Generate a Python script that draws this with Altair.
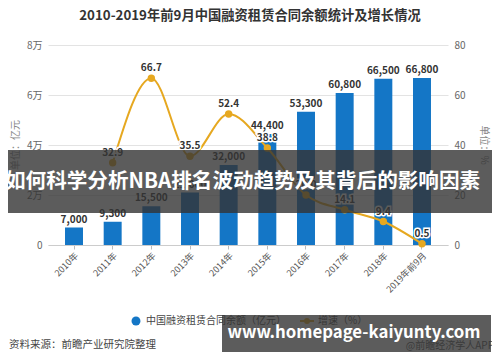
import altair as alt
import pandas as pd

years = ["2010年", "2011年", "2012年", "2013年", "2014年", "2015年", "2016年", "2017年", "2018年", "2019年前9月"]
balance = [7000, 9300, 15500, 21000, 32000, 44400, 53300, 60800, 66500, 66800]
growth = [None, 32.9, 66.7, 35.5, 52.4, 38.8, 20.0, 14.1, 9.4, 0.5]

FONT = "Noto Sans CJK SC"
BLUE = "#1476C6"
GOLD = "#E6A820"

df = pd.DataFrame({"year": years, "balance": balance, "growth": growth})
dfl = df.dropna(subset=["growth"])
one = pd.DataFrame({"a": [0]})

xenc = alt.X("year:N", sort=years,
             scale=alt.Scale(paddingInner=0.535, paddingOuter=0.44),
             axis=alt.Axis(title=None, labelAngle=-45, labelFontSize=9, labelColor="#555",
                           labelFont=FONT, tickColor="#bbb", tickSize=4, domainColor="#ccc",
                           labelPadding=2, grid=False))

yleft = alt.Y("balance:Q", scale=alt.Scale(domain=[0, 80000]),
              axis=alt.Axis(title=None, values=[0, 20000, 40000, 60000, 80000],
                            labelExpr="datum.value == 0 ? '0' : (datum.value/10000) + '万'",
                            labelFontSize=10, labelColor="#666", labelFont=FONT,
                            ticks=False, domain=False, gridColor="#e3e3e3", labelPadding=6))

bars = alt.Chart(df).mark_bar(color=BLUE).encode(x=xenc, y=yleft)
barlab = alt.Chart(df).mark_text(dy=-8, fontSize=10, fontWeight="bold", color="#333",
                                 font=FONT).encode(
    x=alt.X("year:N", sort=years), y="balance:Q", text=alt.Text("balance:Q", format=","))
left = alt.layer(bars, barlab)

yright = alt.Y("growth:Q", scale=alt.Scale(domain=[0, 80]),
               axis=alt.Axis(title=None, orient="right", values=[0, 20, 40, 60, 80],
                             labelFontSize=10, labelColor="#666", labelFont=FONT,
                             ticks=False, domain=False, grid=False, labelPadding=6))
line = alt.Chart(dfl).mark_line(color=GOLD, strokeWidth=2, interpolate="monotone").encode(
    x=alt.X("year:N", sort=years), y=yright)
pts = alt.Chart(dfl).mark_point(filled=True, color=GOLD, size=55, opacity=1).encode(
    x=alt.X("year:N", sort=years), y="growth:Q")
halo = alt.Chart(dfl).mark_text(dy=-10, fontSize=10, fontWeight="bold", color="white",
                                stroke="white", strokeWidth=3, font=FONT).encode(
    x=alt.X("year:N", sort=years), y="growth:Q", text=alt.Text("growth:Q", format=".1f"))
linelab = alt.Chart(dfl).mark_text(dy=-10, fontSize=10, fontWeight="bold", color="#333",
                                   font=FONT).encode(
    x=alt.X("year:N", sort=years), y="growth:Q", text=alt.Text("growth:Q", format=".1f"))
right = alt.layer(line, pts, halo, linelab)

def txt(t, x, y, **kw):
    return alt.Chart(one).mark_text(text=t, font=FONT, **kw).encode(
        x=alt.value(x), y=alt.value(y))

title = txt("2010-2019年前9月中国融资租赁合同余额统计及增长情况", 202, -29,
            fontSize=13.3, fontWeight="bold", color="#333", align="center", baseline="middle")
ltitle = txt("单位：亿元", -32, 100, fontSize=10, color="#888", angle=270,
             align="center", baseline="middle")
rtitle = txt("单位：%", 436, 100, fontSize=10, color="#888", angle=90,
             align="center", baseline="middle")

leg1 = alt.Chart(one).mark_point(filled=True, color=BLUE, size=80, opacity=1).encode(
    x=alt.value(88), y=alt.value(276))
leg1t = txt("中国融资租赁合同余额（亿元）", 98, 276, fontSize=10, color="#444",
            align="left", baseline="middle")
leg2l = alt.Chart(one).mark_rule(color=GOLD, strokeWidth=2).encode(
    x=alt.value(252), x2=alt.value(266), y=alt.value(276))
leg2p = alt.Chart(one).mark_point(filled=True, color=GOLD, size=35, opacity=1).encode(
    x=alt.value(259), y=alt.value(276))
leg2t = txt("增速（%）", 270, 276, fontSize=10, color="#444", align="left", baseline="middle")
source = txt("资料来源：前瞻产业研究院整理", -39, 300, fontSize=10.5, color="#444",
             align="left", baseline="middle")
app = txt("@前瞻经济学人APP", 446, 301, fontSize=10, color="#555", align="right",
          baseline="middle")

ban1 = alt.Chart(one).mark_rect(color="#333", opacity=0.8).encode(
    x=alt.value(-43), x2=alt.value(447), y=alt.value(105), y2=alt.value(168))
ban1t = txt("如何科学分析NBA排名波动趋势及其背后的影响因素", -43, 137, fontSize=20.6,
            fontWeight="bold", color="white", align="left", baseline="middle")
ban2 = alt.Chart(one).mark_rect(color="#333", opacity=0.8).encode(
    x=alt.value(174), x2=alt.value(443), y=alt.value(270), y2=alt.value(307))
ban2t = txt("www.homepage-kaiyunty.com", 306, 288, fontSize=16.8, fontWeight="bold",
            color="white", align="center", baseline="middle")

main = alt.layer(left, right).resolve_scale(y="independent")

chart = alt.layer(main, title, ltitle, rtitle, leg1, leg1t, leg2l, leg2p, leg2t, source, app,
                  ban1, ban1t, ban2, ban2t).properties(
    width=400, height=200,
    autosize=alt.AutoSizeParams(type="none"),
    padding={"left": 40, "top": 37, "right": 44, "bottom": 109},
).configure_view(stroke=None)

chart.save("out.html", embed_options={"renderer": "svg", "actions": False})
